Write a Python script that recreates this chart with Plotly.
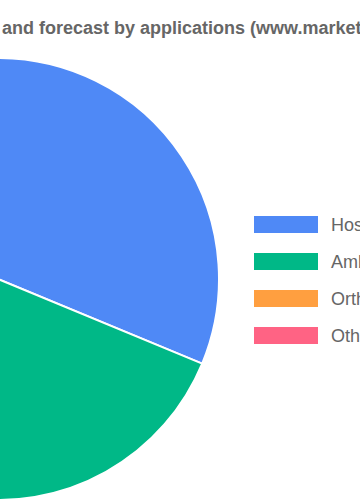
import plotly.graph_objects as go

# ---- data ----
categories = ["Hospitals", "Ambulatory Surgical Centers", "Orthopedic Clinics", "Others"]
shares = [31.25, 42.5, 16.0, 10.25]
colors = ["#4f89f6", "#00b887", "#ff9f40", "#ff6384"]
title_text = "Market size and forecast by applications (www.marketresearch.com)"

# ---- geometry (page pixels; the chart is wider than the window and shifted left) ----
W_FIG, H_FIG, SHIFT = 640, 504, 260
FONT = "Liberation Sans, Arial, Helvetica, sans-serif"
TITLE_SIZE = 18


def px(x):
    return (x + SHIFT) / W_FIG


def py(y):
    return 1 - y / H_FIG


cx, cy, r = -2, 279, 221

fig = go.Figure(
    go.Pie(
        labels=categories,
        values=shares,
        sort=False,
        direction="clockwise",
        rotation=0,
        marker=dict(colors=colors, line=dict(color="white", width=2)),
        textinfo="none",
        hoverinfo="skip",
        showlegend=False,
        domain=dict(x=[px(cx - r), px(cx + r)], y=[py(cy + r), py(cy - r)]),
    )
)

shapes = []
annotations = []
for i, (name, col) in enumerate(zip(categories, colors)):
    yc = 224.5 + 37 * i
    shapes.append(dict(type="rect", xref="paper", yref="paper",
                       x0=px(254), x1=px(318), y0=py(yc + 8.5), y1=py(yc - 8.5),
                       fillcolor=col, line=dict(width=0)))
    annotations.append(dict(xref="paper", yref="paper", x=px(329), y=py(yc + 0.5),
                            xanchor="left", yanchor="middle", showarrow=False,
                            text=name, font=dict(family=FONT, size=18, color="#666666")))

# title (prefix "Market size " is 5.669 em wide in bold)
prefix_w = 5.669 * TITLE_SIZE
annotations.append(dict(xref="paper", yref="paper", x=px(0.3 - prefix_w), y=py(28),
                        xanchor="left", yanchor="middle", showarrow=False,
                        text="<b>" + title_text + "</b>",
                        font=dict(family=FONT, size=TITLE_SIZE, color="#666666")))

fig.update_layout(
    width=W_FIG, height=H_FIG,
    margin=dict(l=0, r=0, t=0, b=0),
    paper_bgcolor="white", plot_bgcolor="white",
    shapes=shapes, annotations=annotations,
)

post = (
    "var gd=document.getElementById('{plot_id}');"
    "document.documentElement.style.overflow='hidden';"
    "document.body.style.margin='0';document.body.style.overflow='hidden';"
    "gd.style.position='absolute';gd.style.left='-%dpx';gd.style.top='0px';" % SHIFT
)
fig.write_html("out.html", config={"displayModeBar": False}, post_script=post)
